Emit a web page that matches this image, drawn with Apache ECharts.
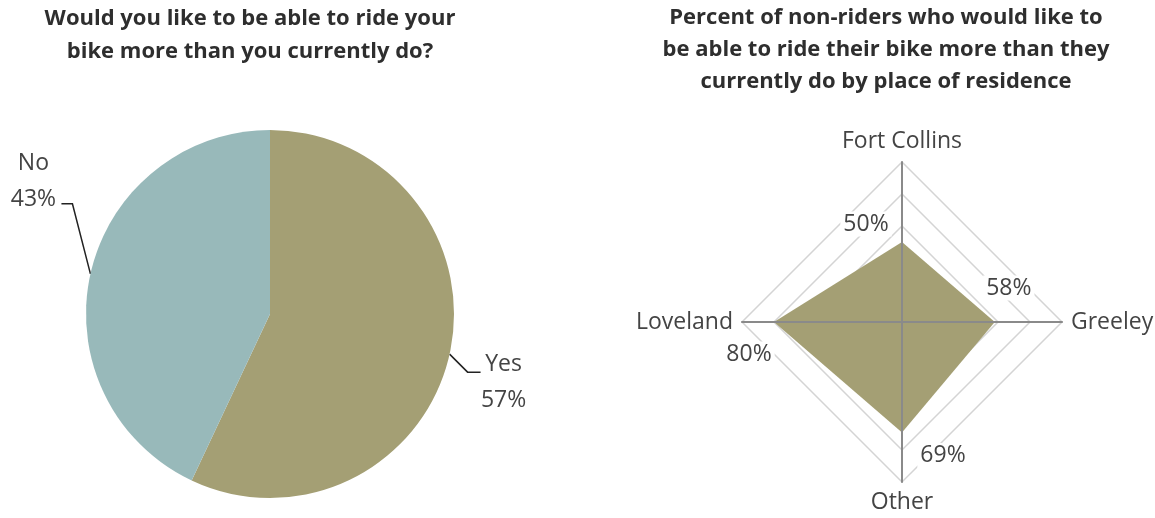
<!DOCTYPE html>
<html>
<head>
<meta charset="utf-8">
<script src="https://cdn.jsdelivr.net/npm/echarts@6/dist/echarts.min.js"></script>
<style>
  html, body { margin: 0; padding: 0; background: #fff; }
  #chart { width: 1155px; height: 518px; }
</style>
</head>
<body>
<div id="chart"></div>
<script>
// data
const pieNames = ['Yes', 'No'];
const pieValues = [57, 43];
const radarAxes = ['Fort Collins', 'Loveland', 'Other', 'Greeley'];
const radarValues = [50, 80, 69, 58];
const radarMax = 100;

const font = 'Open Sans';
const olive = '#a49f74';
const teal = '#98b9ba';

// where each value label sits relative to its vertex
const radarLabelOffsets = [[-36, -18], [-25, 32], [41, 23], [14, -34]];
// pie label placement relative to the slice edge point
const pieLabelLayout = [
  { dx: 54, dy: 28, line: [[18, 18], [31, 18]] },
  { dx: -57, dy: -92, line: [[-18, -70], [-29, -70]] }
];

const chart = echarts.init(document.getElementById('chart'));

const indicator = radarAxes.map(n => ({ name: n, min: 0, max: radarMax }));

const labelItems = radarValues.map((v, i) => ({
  value: radarValues.map((w, j) => (j === i ? w : 0)),
  symbol: 'circle',
  symbolSize: 1,
  itemStyle: { color: 'rgba(0,0,0,0)' },
  lineStyle: { opacity: 0 },
  areaStyle: { opacity: 0 },
  label: {
    show: true,
    position: 'inside',
    offset: radarLabelOffsets[i],
    formatter: p => (p.value ? '{v|' + p.value + '%}' : ''),
    rich: {
      v: { fontFamily: font, fontSize: 23, color: '#444', backgroundColor: '#fff', padding: [1, 3] }
    }
  }
}));

const option = {
  animation: false,
  title: [{
    text: 'Would you like to be able to ride your\nbike more than you currently do?',
    left: 245,
    top: -3,
    textAlign: 'center',
    textStyle: { fontFamily: font, fontWeight: 'bold', fontSize: 22, lineHeight: 33, color: '#2e2e2e' }
  }, {
    text: 'Percent of non-riders who would like to\nbe able to ride their bike more than they\ncurrently do by place of residence',
    left: 881,
    top: -3,
    textAlign: 'center',
    textStyle: { fontFamily: font, fontWeight: 'bold', fontSize: 22, lineHeight: 32, color: '#2e2e2e' }
  }],
  radar: [{
    center: [902, 322],
    radius: 160,
    shape: 'polygon',
    splitNumber: 5,
    indicator: indicator,
    nameGap: 9,
    axisName: { fontFamily: font, fontSize: 23, color: '#444' },
    axisLine: { show: false },
    axisTick: { show: false },
    axisLabel: { show: false },
    splitArea: { show: false },
    splitLine: { lineStyle: { color: '#d4d4d4', width: 1.5 } }
  }, {
    center: [902, 322],
    radius: 160,
    shape: 'polygon',
    z: 5,
    indicator: indicator,
    axisName: { show: false },
    axisLine: { lineStyle: { color: '#8a8a8a', width: 2 } },
    axisTick: { show: false },
    axisLabel: { show: false },
    splitArea: { show: false },
    splitLine: { show: false }
  }],
  series: [{
    type: 'pie',
    center: [270, 314],
    radius: 184,
    startAngle: 90,
    clockwise: true,
    avoidLabelOverlap: false,
    emphasis: { disabled: true },
    data: pieNames.map((n, i) => ({ name: n, value: pieValues[i] })),
    color: [olive, teal],
    label: {
      formatter: '{b}\n{c}%',
      fontFamily: font,
      fontSize: 23,
      lineHeight: 36,
      color: '#444',
      align: 'center'
    },
    labelLine: { show: true, length: 20, length2: 12, lineStyle: { color: '#222', width: 1.5 } },
    labelLayout: function (params) {
      const pts = params.labelLinePoints;
      const o = pieLabelLayout[params.dataIndex];
      if (!pts || !o) return {};
      const x0 = pts[0][0], y0 = pts[0][1];
      return {
        x: x0 + o.dx,
        y: y0 + o.dy,
        align: 'center',
        verticalAlign: 'middle',
        labelLinePoints: [[x0, y0], [x0 + o.line[0][0], y0 + o.line[0][1]], [x0 + o.line[1][0], y0 + o.line[1][1]]]
      };
    }
  }, {
    type: 'radar',
    radarIndex: 0,
    emphasis: { disabled: true },
    data: [{
      value: radarValues,
      symbol: 'none',
      lineStyle: { width: 0 },
      areaStyle: { color: olive, opacity: 1 }
    }].concat(labelItems)
  }]
};

chart.setOption(option);
</script>
</body>
</html>
